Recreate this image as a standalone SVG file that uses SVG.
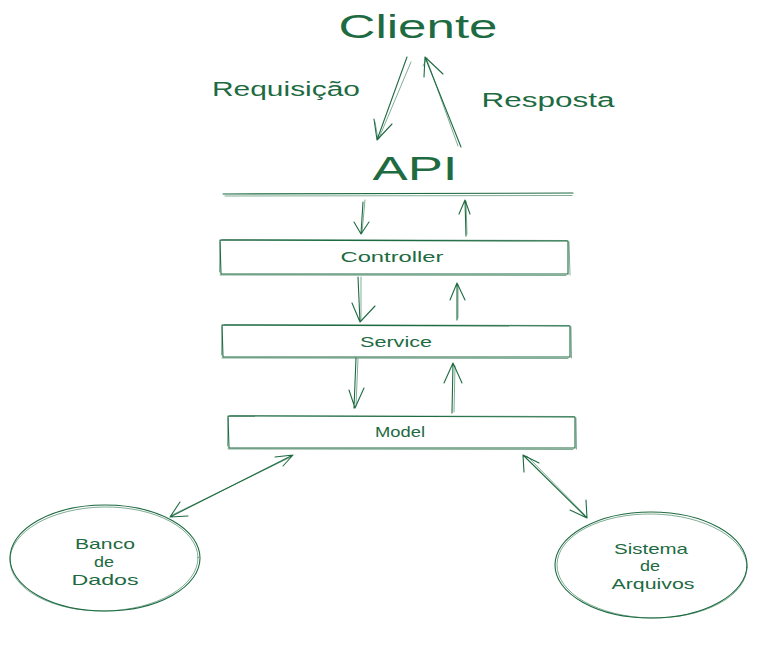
<svg xmlns="http://www.w3.org/2000/svg" width="758" height="650" viewBox="0 0 758 650">
<defs>
<style>
.s{fill:none;stroke:#1e6b42;stroke-width:1.1;stroke-linecap:round;stroke-linejoin:round}
.s2{fill:none;stroke:#1e6b42;stroke-width:0.7;stroke-linecap:round;opacity:0.8}
.t{font-family:"Liberation Sans","DejaVu Sans",sans-serif;fill:#1e6b42;text-anchor:middle}
.big{font-size:34px}
.mid{font-size:20px}
.sm{font-size:15px}
</style>
</defs>
<rect width="758" height="650" fill="#ffffff"/>

<g id="cliente"><text class="t big" x="418" y="38" textLength="159" lengthAdjust="spacingAndGlyphs">Cliente</text></g>
<g id="label-requisicao"><text class="t mid" x="286" y="96" textLength="148" lengthAdjust="spacingAndGlyphs">Requisição</text></g>
<g id="label-resposta"><text class="t mid" x="548" y="107" textLength="133" lengthAdjust="spacingAndGlyphs">Resposta</text></g>
<g id="api">
<text class="t big" x="415" y="180" textLength="85" lengthAdjust="spacingAndGlyphs">API</text>
<path class="s" d="M223 194 L573 193"/>
<path class="s2" d="M225 196 L572 195.5"/>
</g>

<g id="controller">
<path class="s" d="M220 240 L568 241 L568 274 L221 274 Z"/>
<path class="s2" d="M222 239.5 L567 240.5 M569 242 L570 275 M566 275.5 L220 275 M219.5 272 L220 242"/>
<text class="t sm" x="392" y="262" textLength="103" lengthAdjust="spacingAndGlyphs">Controller</text>
</g>
<g id="service">
<path class="s" d="M222 325 L570 326 L570 357 L223 357 Z"/>
<path class="s2" d="M224 324.5 L569 325.5 M571 327 L571.5 358 M568 358.5 L222 358 M221.5 355 L222 327"/>
<text class="t sm" x="396" y="347" textLength="72" lengthAdjust="spacingAndGlyphs">Service</text>
</g>
<g id="model">
<path class="s" d="M228 416 L575 417 L575 448 L229 448 Z"/>
<path class="s2" d="M230 415.5 L574 416.5 M576 418 L576.5 449 M573 449.5 L228 449 M227.5 446 L228 418"/>
<text class="t sm" x="400" y="437" textLength="50" lengthAdjust="spacingAndGlyphs">Model</text>
</g>
<g id="banco">
<ellipse class="s" cx="105" cy="558" rx="95" ry="53"/>
<ellipse class="s2" cx="104" cy="559" rx="94" ry="52" transform="rotate(-1 104 559)"/>
<text class="t sm" x="105" y="549" textLength="60" lengthAdjust="spacingAndGlyphs">Banco</text>
<text class="t sm" x="104" y="567" textLength="20" lengthAdjust="spacingAndGlyphs">de</text>
<text class="t sm" x="105" y="585" textLength="67" lengthAdjust="spacingAndGlyphs">Dados</text>
</g>
<g id="arquivos">
<ellipse class="s" cx="651" cy="565" rx="96" ry="53"/>
<ellipse class="s2" cx="652" cy="566" rx="95" ry="52" transform="rotate(1 652 566)"/>
<text class="t sm" x="651" y="554" textLength="74" lengthAdjust="spacingAndGlyphs">Sistema</text>
<text class="t sm" x="650" y="571" textLength="20" lengthAdjust="spacingAndGlyphs">de</text>
<text class="t sm" x="653" y="589" textLength="83" lengthAdjust="spacingAndGlyphs">Arquivos</text>
</g>

<g id="connectors">
<path class="s" d="M407 57 L377 140 M374 119 L377 140 L392 124"/>
<path class="s2" d="M411 62 L379 138 M375 122 L378 139"/>
<path class="s" d="M461 147 L425 57 M424 77 L425 57 L443 74"/>
<path class="s2" d="M458 146 L427 60 M423 66 L427 58"/>
<path class="s" d="M363 202 L361 234 M354 222 L361 234 L369 222"/>
<path class="s2" d="M365 200 L362 233"/>
<path class="s" d="M466 236 L465 200 M459 214 L465 200 L470 214"/>
<path class="s2" d="M467 234 L466 201"/>
<path class="s" d="M358 277 L360 322 M352 303 L360 322 L375 306"/>
<path class="s2" d="M361 277 L361 320"/>
<path class="s" d="M457 320 L457 283 M450 300 L457 283 L465 300"/>
<path class="s2" d="M458 318 L458 285"/>
<path class="s" d="M356 358 L354 408 M349 390 L355 408 L364 388"/>
<path class="s2" d="M358 359 L356 406"/>
<path class="s" d="M452 413 L453 363 M444 383 L453 363 L462 383"/>
<path class="s2" d="M454 412 L455 366"/>
<path class="s" d="M293 455 L170 517 M275 457 L293 455 L283 466 M180 502 L170 517 L188 516"/>
<path class="s2" d="M291 457 L172 515"/>
<path class="s" d="M523 455 L587 518 M524 472 L523 455 L539 463 M586 500 L587 518 L570 510"/>
<path class="s2" d="M527 456 L585 515"/>
</g>
</svg>
